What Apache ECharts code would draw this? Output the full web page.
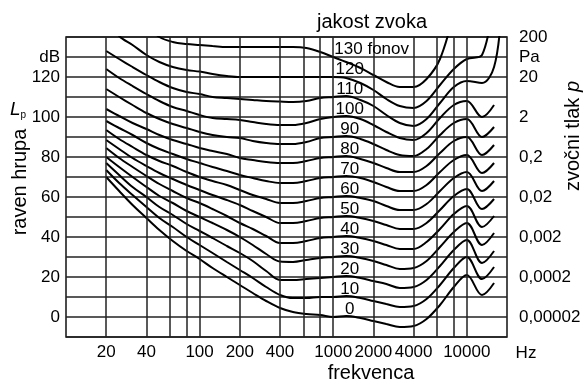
<!DOCTYPE html>
<html><head><meta charset="utf-8">
<script src="https://cdn.jsdelivr.net/npm/echarts@6/dist/echarts.min.js"></script>
<style>html,body{margin:0;padding:0;background:#fff}#c{width:584px;height:383px}</style>
</head><body><div id="c"></div>
<script>
// frequency points (Hz)
const freqs = [20, 25, 31.5, 40, 50, 63, 80, 100, 125, 160, 200, 250, 315, 400, 500, 630, 800, 1000, 1250, 1600, 2000, 2500, 3150, 4000, 5000, 6300, 8000, 10000, 13000, 16000, 18000];
// loudness levels (phon)
const phonLevels = [0, 10, 20, 30, 40, 50, 60, 70, 80, 90, 100, 110, 120, 130];
// sound pressure level (dB) of each equal-loudness contour
const phon0   = [70, 63, 56, 49.5, 43.5, 38, 33, 29, 24.5, 20, 16, 12, 8, 4.5, 2.5, 1.5, 1, 0, 0.5, -0.5, -2, -3.5, -5, -4.5, -1, 6, 15, 21, 11, 17, null];
const phon10  = [73.5, 67, 61, 55, 49.5, 45, 40, 36, 32, 27.5, 23.5, 19.5, 15, 11, 9.5, 9.5, 10, 10, 10.5, 9.5, 8, 6.5, 5, 5.5, 9, 16, 24.5, 30, 19, 25, null];
const phon20  = [77, 71, 65, 60, 55, 51, 46.5, 43, 39.5, 35.5, 32, 28, 23, 18.5, 18.5, 19, 19.5, 20, 20.5, 19.5, 18, 16.5, 14.5, 15, 18.5, 25.5, 33.5, 38.5, 27, 33, null];
const phon30  = [80, 75, 70, 65, 60.5, 57, 53, 50, 47, 43.5, 40, 36, 31.5, 27.7, 27.5, 28.5, 29.5, 30, 30.5, 29.5, 28, 26, 24, 24.5, 28, 35, 42.5, 47, 36, 42, null];
const phon40  = [84.5, 79.5, 75, 70.5, 66.5, 63, 59.5, 57, 54, 50.5, 47, 44, 40.5, 37, 37, 38, 39.5, 40, 40.5, 39.5, 38, 36, 34, 34, 37.5, 44, 51.5, 55.5, 45, 50.5, null];
const phon50  = [88.5, 84, 79.5, 75.5, 72, 69, 66, 63.5, 61, 58.5, 56, 53, 50, 47, 47, 48, 49.5, 50, 50.5, 49.5, 48, 46, 44, 44, 47, 53.5, 60.5, 64, 54, 59, null];
const phon60  = [93.5, 89, 85, 81, 78, 75.5, 72.5, 70, 68, 66, 63.5, 61, 59, 57, 57, 58, 59.5, 60, 60.5, 59.5, 58, 55.5, 53.5, 53.5, 56.5, 63, 69.5, 72.5, 63, 68, null];
const phon70  = [98, 94.5, 91, 87, 84, 81.5, 79, 77, 75, 73, 71, 69.5, 68, 67, 67, 68, 69.5, 70, 70.5, 69.5, 67.5, 65, 63, 63, 66, 72.5, 78.5, 81, 72, 77, null];
const phon80  = [104, 100.5, 97, 94, 91, 88.5, 86.5, 84.5, 83, 81.5, 79.5, 78.5, 77.5, 77, 77, 78, 79.5, 80, 80.5, 79, 77, 74.5, 72.5, 72.5, 75.5, 82, 88, 90, 81, 86, null];
const phon90  = [114, 110, 106, 102, 99, 96.5, 94.5, 92.5, 91, 90, 89.5, 88, 87, 86.5, 86.5, 87.5, 89.5, 90, 90.5, 89, 86.5, 83.5, 81, 80.5, 84, 91, 97, 99, 90, 95, null];
const phon100 = [124, 119.5, 115.5, 111.5, 108, 105, 103, 101, 99.5, 99, 98.5, 97.5, 96.5, 96, 96, 97, 99, 100, 100.5, 99, 96, 92.5, 89.5, 88.5, 92, 99.5, 106, 108, 100, 106, null];
const phon110 = [133, 129, 125, 121, 117.5, 114.5, 112.5, 111.5, 110, 109.5, 109, 108.5, 108, 107.7, 107.5, 108, 109.5, 110, 110.5, 108.5, 105.5, 101, 97, 95.5, 99, 107, 115, 118, 117, 125, 150];
const phon120 = [150, 140.5, 136, 131, 127.5, 125, 123.5, 122.7, 121.5, 120.5, 120, 120, 120, 120, 120, 120, 120, 120, 119.5, 117, 113.5, 109, 105.5, 104.5, 108, 116, 124, 129, 131, 160, null];
const phon130 = [null, null, null, 146, 140, 137.5, 136.5, 136, 135.5, 135, 135, 135, 135, 135, 135, 134.5, 132.5, 130, 127.5, 124.5, 121, 117.5, 115, 115, 119, 129, 152, null, null, null, null];

// axis ticks
const xGridFreqs = [20, 40, 60, 80, 100, 200, 400, 600, 800, 1000, 2000, 4000, 6000, 8000, 10000];
const xTickFreqs = [20, 40, 100, 200, 400, 1000, 2000, 4000, 10000];
const yLeftTicks = [0, 20, 40, 60, 80, 100, 120];
const pressureTicks = [0, 20, 40, 60, 80, 100, 120, 140];
const pressureLabels = ['0,00002', '0,0002', '0,002', '0,02', '0,2', '2', '20', '200'];

const curves = [phon0, phon10, phon20, phon30, phon40, phon50, phon60, phon70, phon80, phon90, phon100, phon110, phon120, phon130];

const FONT = '"Liberation Sans", Arial, Helvetica, sans-serif';
const TXT = '#000';

const chart = echarts.init(document.getElementById('c'), null, {renderer: 'canvas'});

// curve label placement (frequency, dB above the contour level)
const LABEL_F = 1330, LABEL_F130 = 1020, LABEL_DY = 4;

const curveSeries = curves.map((arr, k) => {
  const p = phonLevels[k];
  return {
    type: 'line',
    name: p + ' phon',
    data: freqs.map((f, i) => [f, arr[i]]).filter(d => d[1] !== null),
    smooth: 0.35,
    symbol: 'none',
    showSymbol: false,
    clip: true,
    silent: true,
    lineStyle: {color: '#000', width: 2},
    z: 4,
    markPoint: {
      silent: true,
      animation: false,
      symbol: 'circle', symbolSize: 0,
      itemStyle: {color: 'transparent'},
      label: {
        show: true, position: 'inside',
        formatter: p === 130 ? '130 fonov' : String(p),
        align: p === 130 ? 'left' : 'center',
        verticalAlign: 'middle',
        fontSize: 17, fontFamily: FONT, color: TXT, textBorderWidth: 0, opacity: 1
      },
      data: [{coord: [p === 130 ? LABEL_F130 : LABEL_F, p + LABEL_DY]}]
    }
  };
});

// vertical grid lines + frequency tick labels
const gridSeries = {
  type: 'line',
  data: [],
  silent: true,
  markLine: {
    silent: true,
    symbol: ['none', 'none'],
    animation: false,
    lineStyle: {color: '#222', width: 1.5, type: 'solid'},
    label: {
      show: true, position: 'start', distance: 7,
      formatter: p => xTickFreqs.includes(p.value) ? String(p.value) : '',
      fontSize: 17, fontFamily: FONT, color: TXT
    },
    emphasis: {disabled: true},
    data: xGridFreqs.map(f => ({xAxis: f}))
  }
};

const option = {
  animation: false,
  backgroundColor: '#fff',
  grid: {left: 66, right: 77, top: 37, bottom: 46, show: true, borderColor: '#111', borderWidth: 1.5, backgroundColor: 'transparent'},
  xAxis: {
    type: 'log', logBase: 10, min: 10, max: 20000,
    axisLine: {show: false}, axisTick: {show: false}, axisLabel: {show: false}, splitLine: {show: false}
  },
  yAxis: [{
    type: 'value', min: -10, max: 140, interval: 10, position: 'left',
    axisLine: {show: false}, axisTick: {show: false},
    splitLine: {show: true, lineStyle: {color: '#222', width: 1.5}},
    axisLabel: {
      margin: 6, fontSize: 17, fontFamily: FONT, color: TXT,
      formatter: v => v === 130 ? 'dB' : (yLeftTicks.includes(v) ? String(v) : '')
    }
  }, {
    type: 'value', min: -10, max: 140, interval: 10, position: 'right',
    axisLine: {show: false}, axisTick: {show: false}, splitLine: {show: false},
    axisLabel: {
      margin: 12, fontSize: 17, fontFamily: FONT, color: TXT, align: 'left',
      formatter: v => v === 130 ? 'Pa' : (pressureTicks.includes(v) ? pressureLabels[pressureTicks.indexOf(v)] : '')
    }
  }],
  series: [gridSeries].concat(curveSeries),
  graphic: [
    {type: 'text', x: 372, y: 22, style: {text: 'jakost zvoka', font: '20px ' + FONT, fill: TXT, textAlign: 'center', textVerticalAlign: 'middle', align: 'center', verticalAlign: 'middle'}},
    {type: 'text', x: 371, y: 373, style: {text: 'frekvenca', font: '20px ' + FONT, fill: TXT, textAlign: 'center', textVerticalAlign: 'middle', align: 'center', verticalAlign: 'middle'}},
    {type: 'text', x: 526, y: 353, style: {text: 'Hz', font: '17px ' + FONT, fill: TXT, textAlign: 'center', textVerticalAlign: 'middle', align: 'center', verticalAlign: 'middle'}},
    {type: 'text', x: 20, y: 182, rotation: Math.PI / 2, style: {text: 'raven hrupa', font: '20px ' + FONT, fill: TXT, textAlign: 'center', textVerticalAlign: 'middle', align: 'center', verticalAlign: 'middle'}},
    {type: 'text', x: 18, y: 110, style: {text: '{l|L}{s|p}', fill: TXT, textAlign: 'center', textVerticalAlign: 'middle', align: 'center', verticalAlign: 'middle',
      rich: {l: {font: 'italic 19px ' + FONT, fill: TXT}, s: {font: '10px ' + FONT, fill: TXT, padding: [10, 0, 0, 0]}}}},
    {type: 'text', x: 573, y: 136, rotation: Math.PI / 2, style: {text: '{n|zvočni tlak }{i|p}', fill: TXT, textAlign: 'center', textVerticalAlign: 'middle', align: 'center', verticalAlign: 'middle',
      rich: {n: {font: '20px ' + FONT, fill: TXT}, i: {font: 'italic 20px ' + FONT, fill: TXT}}}}
  ]
};
chart.setOption(option);
</script>
</body></html>
